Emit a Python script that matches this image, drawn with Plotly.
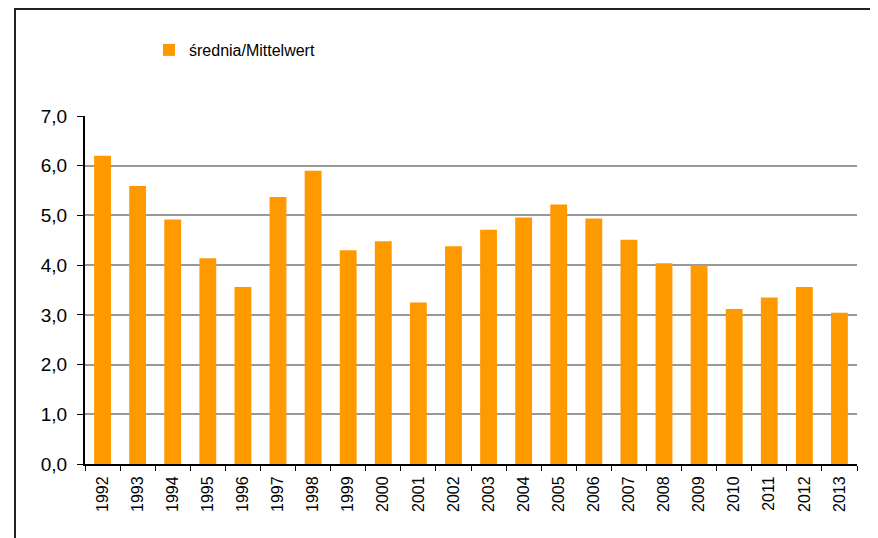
import plotly.graph_objects as go

years = [str(y) for y in range(1992, 2014)]
values = [6.20, 5.59, 4.92, 4.14, 3.56, 5.37, 5.90, 4.30, 4.48, 3.25, 4.38,
          4.71, 4.96, 5.22, 4.94, 4.51, 4.04, 4.00, 3.12, 3.35, 3.56, 3.04]
series_name = "średnia/Mittelwert"
y_ticks = [0, 1, 2, 3, 4, 5, 6, 7]

# page body has an 8px margin; work in screen pixels and subtract it
OFF = 8
W, H = 878 - OFF, 538 - OFF
L, R, T, B = 85 - OFF, 21, 116 - OFF, 74
pw, ph = W - L - R, H - T - B

def px_x(p):
    return (p - OFF - L) / pw

def px_y(p):
    return (H - B - (p - OFF)) / ph

fig = go.Figure()
fig.add_trace(go.Bar(
    x=years, y=values, name=series_name,
    marker=dict(color="#FF9900", line=dict(width=0)),
    width=0.48, showlegend=True,
))

fig.update_layout(
    width=W, height=H,
    margin=dict(l=L, r=R, t=T, b=B, pad=0),
    paper_bgcolor="white", plot_bgcolor="white",
    separators=", ",
    font=dict(family="Liberation Sans, Arial, sans-serif", color="#000000"),
    showlegend=True,
    legend=dict(
        x=px_x(149), y=px_y(33), xanchor="left", yanchor="top",
        orientation="h", font=dict(size=16, color="#000000"),
        bgcolor="rgba(0,0,0,0)", itemwidth=30, tracegroupgap=0,
    ),
    xaxis=dict(
        type="category", showgrid=False,
        showline=True, linecolor="#000000", linewidth=2,
        ticks="outside", tickson="boundaries", ticklen=5, tickwidth=1,
        tickcolor="#000000", tickangle=-90,
        tickfont=dict(size=16, color="#000000"),
        ticklabelstandoff=4,
    ),
    yaxis=dict(
        range=[0, 7], tickvals=y_ticks, tickformat=".1f",
        showgrid=True, gridcolor="#999999", gridwidth=1.5,
        showline=True, linecolor="#000000", linewidth=2,
        ticks="outside", ticklen=6, tickwidth=1, tickcolor="#000000",
        tickfont=dict(size=19, color="#000000"),
        ticklabelstandoff=6, zeroline=False,
    ),
    bargap=0.52,
    shapes=[dict(
        type="rect", xref="paper", yref="paper",
        x0=px_x(15), x1=px_x(890), y0=px_y(545), y1=px_y(9),
        line=dict(color="#222222", width=2), fillcolor="rgba(0,0,0,0)",
        layer="above",
    )],
)

fig.write_html("out.html")
